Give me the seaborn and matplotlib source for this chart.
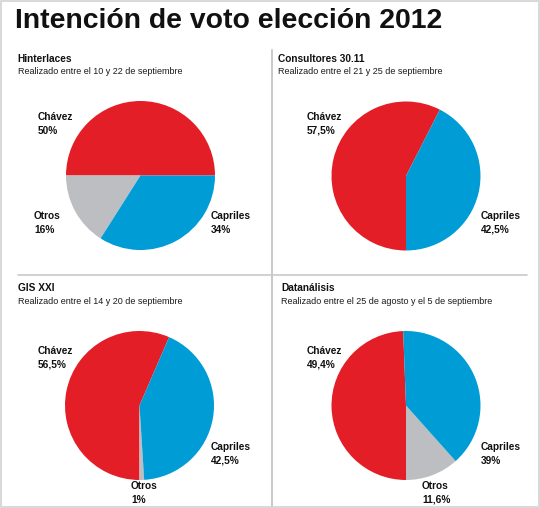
import matplotlib
matplotlib.use("Agg")
import matplotlib.pyplot as plt
from matplotlib import font_manager
from matplotlib.lines import Line2D
from matplotlib.patches import Rectangle
import seaborn as sns

#################### DATA ####################
TITLE = "Intención de voto elección 2012"
encuestadoras = ["Hinterlaces", "Consultores 30.11", "GIS XXI", "Datanálisis"]
periodos = [
    "Realizado entre el 10 y 22 de septiembre",
    "Realizado entre el 21 y 25 de septiembre",
    "Realizado entre el 14 y 20 de septiembre",
    "Realizado entre el 25 de agosto y el 5 de septiembre",
]
candidatos = ["Chávez", "Otros", "Capriles"]
chavez = [50, 57.5, 56.5, 49.4]
otros = [16, 0, 1, 11.6]
capriles = [34, 42.5, 42.5, 39]

#################### CONFIG ####################
sns.set_theme(style="white")
names = {f.name for f in font_manager.fontManager.ttflist}
NARROW = "Liberation Sans Narrow" if "Liberation Sans Narrow" in names else "Liberation Sans"
plt.rcParams["font.family"] = [NARROW, "DejaVu Sans"]

RED = "#E31E26"
BLUE = "#009CD6"
GREY = "#BCBEC1"
LINE = "#C9C9C9"
COLORS = {"Chávez": RED, "Otros": GREY, "Capriles": BLUE}

W, H = 540, 508


def fx(x):
    return x / W


def fy(y):
    return 1 - y / H


def fmt(v):
    return f"{v:g}".replace(".", ",") + "%"


# layout in pixels: pie centres, header origin, label top-left corners
centres = [(140.5, 175.5), (406, 176), (139.5, 405.5), (406, 405.5)]
RADIUS = 74.5
headers = [(17.5, 62), (278, 62), (17.5, 291), (281, 291)]
label_pos = [
    {"Chávez": (38, 112), "Otros": (34, 211), "Capriles": (211, 211)},
    {"Chávez": (307, 112), "Capriles": (481, 211)},
    {"Chávez": (38, 346), "Otros": (131, 481), "Capriles": (211, 442)},
    {"Chávez": (307, 346), "Otros": (422, 481), "Capriles": (481, 442)},
]
# Chávez slice ends at left for the first pie, at the bottom for the rest
end_angles = [180, 270, 270, 270]

#################### FIGURE ####################
fig = plt.figure(figsize=(W / 100, H / 100), dpi=100)
fig.patch.set_facecolor("white")

fig.text(fx(15), fy(27.5), TITLE, fontsize=20.4, weight="bold", color="#111111",
         va="baseline", ha="left")

for i, name in enumerate(encuestadoras):
    vals = {"Chávez": chavez[i], "Otros": otros[i], "Capriles": capriles[i]}
    keys = [k for k in candidatos if vals[k] > 0]
    cx, cy = centres[i]
    ax = fig.add_axes([fx(cx - RADIUS), fy(cy + RADIUS), 2 * RADIUS / W, 2 * RADIUS / H])
    ax.pie(
        [vals[k] for k in keys],
        colors=[COLORS[k] for k in keys],
        startangle=end_angles[i] - 3.6 * chavez[i],
        counterclock=True,
        radius=1,
        wedgeprops={"linewidth": 0},
    )
    ax.set_xlim(-1, 1)
    ax.set_ylim(-1, 1)
    ax.set_axis_off()

    hx, hy = headers[i]
    fig.text(fx(hx), fy(hy), name, fontsize=7.3, weight="bold", color="#111111",
             va="baseline")
    fig.text(fx(hx), fy(hy + 12.5), periodos[i], fontsize=6.5, color="#1a1a1a",
             va="baseline")

    for k in keys:
        lx, ly = label_pos[i][k]
        fig.text(fx(lx), fy(ly), f"{k}\n{fmt(vals[k])}", fontsize=7.3, weight="bold",
                 color="#111111", va="top", ha="left", linespacing=1.45)

# dividers and frame
fig.add_artist(Line2D([fx(272), fx(272)], [fy(50), fy(506)], color=LINE, lw=1.4))
fig.add_artist(Line2D([fx(18), fx(527)], [fy(275), fy(275)], color=LINE, lw=1.2))
fig.add_artist(Rectangle((0.001, 0.001), 0.998, 0.998, transform=fig.transFigure,
                         fill=False, edgecolor="#D2D2D2", lw=1.2))

plt.savefig("out.png", dpi=100, facecolor="white")
